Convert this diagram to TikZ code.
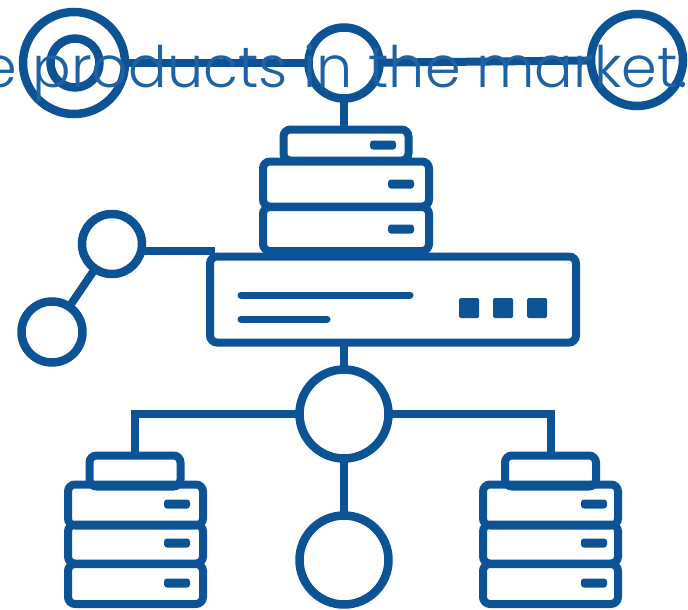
\documentclass[tikz,border=0pt]{standalone}
\usepackage{fontspec}
\setmainfont[UprightFont=* Light]{Poppins}
\usepackage{tikz}
\definecolor{netblue}{HTML}{0C5396}
\definecolor{txtblue}{HTML}{1E62A3}

\begin{document}
\begin{tikzpicture}[x=1pt, y=-1pt,
	ring/.style={circle, draw=netblue, line width=8.5pt, inner sep=0pt, outer sep=0pt},
	shelf/.style={rectangle, draw=netblue, line width=8pt, rounded corners=7pt, inner sep=0pt, outer sep=0pt},
	slot/.style={rectangle, fill=netblue, rounded corners=3pt, inner sep=0pt, minimum width=26pt, minimum height=9pt},
	led/.style={rectangle, fill=netblue, rounded corners=1.5pt, inner sep=0pt, minimum size=20pt},
	wire/.style={draw=netblue, line width=8pt},
	bar/.style={draw=netblue, line width=7pt, line cap=round}]
	\useasboundingbox (0,0) rectangle (688,610);
	\clip (0,0) rectangle (688,610);

	\node[ring, minimum size=102pt] (r1) at (74,63){};
	\node[ring, minimum size=49pt] (r1in) at (75,63){};
	\node[ring, minimum size=71pt] (r2) at (344,63){};
	\node[ring, minimum size=92pt] (r3) at (637,60){};

	\node[shelf, minimum width=125pt, minimum height=31pt] (t0) at (346,145){};
	\node[shelf, minimum width=166pt, minimum height=45pt] (t1) at (346,184){};
	\node[shelf, minimum width=166pt, minimum height=44pt] (t2) at (346,229){};
	\node[slot] (t0s) at (383,145){};
	\node[slot] (t1s) at (401,184){};
	\node[slot] (t2s) at (401,229){};

	\node[shelf, minimum width=366pt, minimum height=86pt] (main) at (393,299.5){};
	\node[led] (m1) at (469,308){};
	\node[led] (m2) at (503,308){};
	\node[led] (m3) at (537,308){};
	\coordinate (b1a) at (241,295);
	\coordinate (b1b) at (410,295);
	\coordinate (b2a) at (241,319);
	\coordinate (b2b) at (327,319);

	\node[ring, minimum size=60pt] (c1) at (112,244){};
	\node[ring, minimum size=61pt] (c2) at (52,332){};
	\coordinate (w1) at (142,251);
	\coordinate (w2) at (215,251);

	\node[ring, minimum size=89pt] (hub) at (344,414){};
	\node[ring, minimum size=89pt] (leaf) at (344,560){};

	\node[shelf, minimum width=91pt, minimum height=31pt] (l0) at (135,471){};
	\node[shelf, minimum width=135pt, minimum height=41pt] (l1) at (135.5,505){};
	\node[shelf, minimum width=135pt, minimum height=39pt] (l2) at (135.5,544){};
	\node[shelf, minimum width=135pt, minimum height=40pt] (l3) at (135.5,584){};
	\node[slot] (l1s) at (177,504){};
	\node[slot] (l2s) at (177,543){};
	\node[slot] (l3s) at (177,583){};

	\node[shelf, minimum width=91pt, minimum height=31pt] (q0) at (550.5,471){};
	\node[shelf, minimum width=135pt, minimum height=41pt] (q1) at (550.5,505){};
	\node[shelf, minimum width=135pt, minimum height=39pt] (q2) at (550.5,544){};
	\node[shelf, minimum width=135pt, minimum height=40pt] (q3) at (550.5,584){};
	\node[slot] (q1s) at (594,504){};
	\node[slot] (q2s) at (594,543){};
	\node[slot] (q3s) at (594,583){};

	\path[wire] (r1) edge (r2);
	\path[wire] (r2) edge (r3);
	\path[wire] (r2) edge (r2 |- t0.north);
	\path[wire] (w1) edge (w2);
	\path[wire] (c1) edge (c2);
	\path[wire] (hub |- main.south) edge (hub);
	\path[wire] (hub) edge (leaf);
	\draw[wire] (hub.west) -| (l0.north);
	\draw[wire] (hub.east) -| (q0.north);
	\path[bar] (b1a) edge (b1b);
	\path[bar] (b2a) edge (b2b);

	\node[text=txtblue, anchor=base west, inner sep=0pt, font=\fontsize{57.2}{57}\selectfont] (headline) at (-19,88){e products in the market.};
\end{tikzpicture}
\end{document}
